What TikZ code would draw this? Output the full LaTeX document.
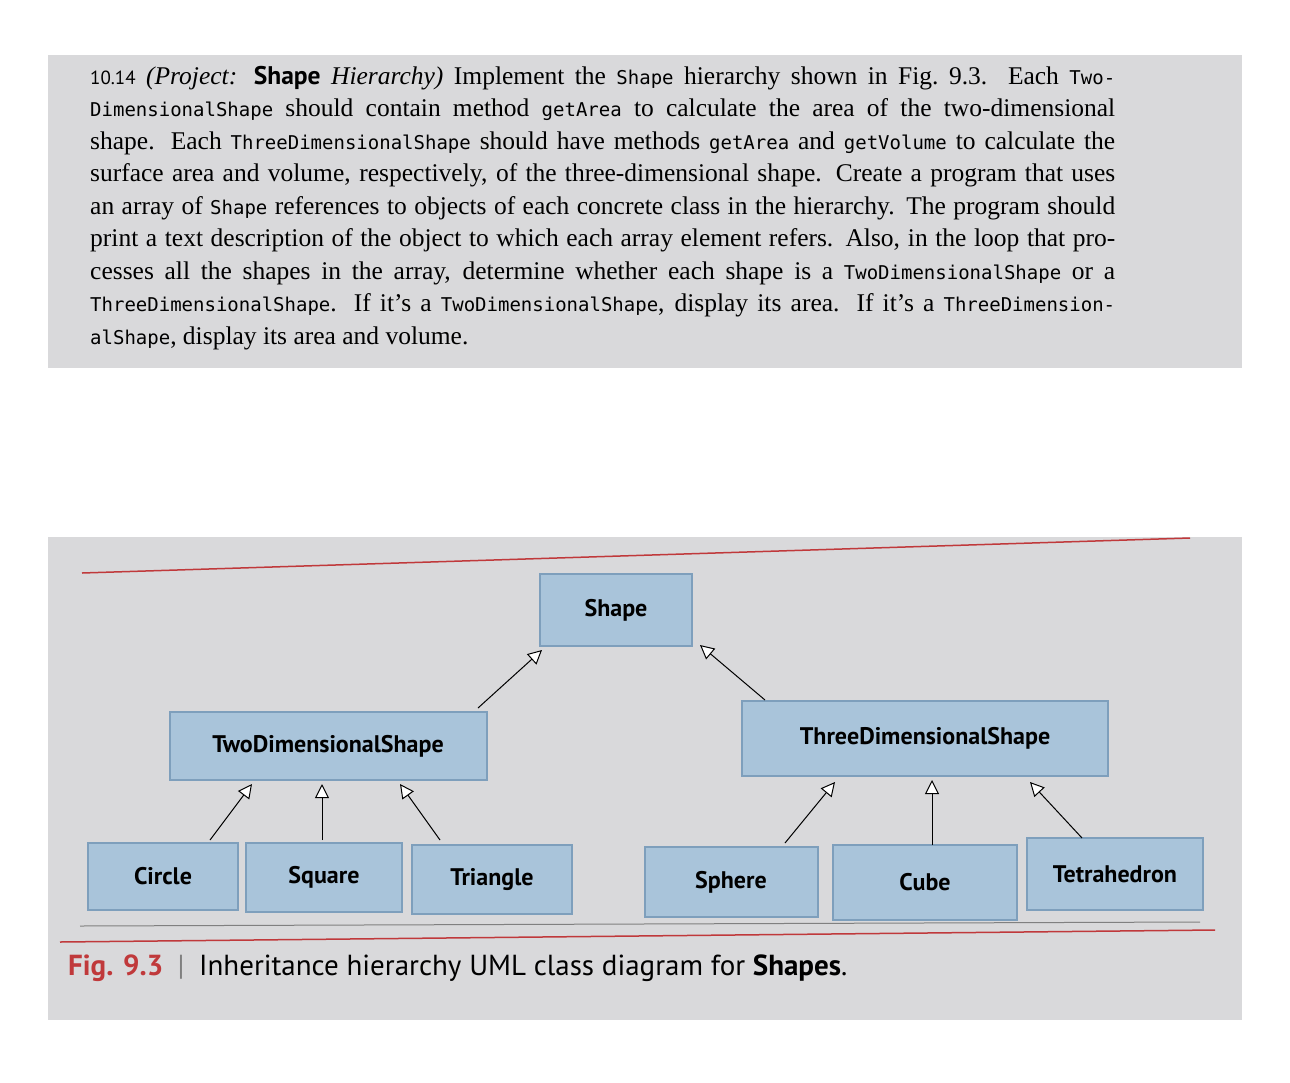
\documentclass[tikz,border=0pt]{standalone}
\usepackage{fontspec}
\setmainfont{Liberation Serif}
\setsansfont{PT Sans}
\setmonofont{DejaVu Sans Mono}
\usetikzlibrary{arrows.meta}
\definecolor{panel}{HTML}{D9D9DB}
\definecolor{boxfill}{HTML}{A9C4DA}
\definecolor{boxline}{HTML}{7E9FBC}
\definecolor{figred}{HTML}{C0393B}
\tikzset{
  cls/.style={draw=boxline, line width=2pt, fill=boxfill, font=\sffamily\bfseries\fontsize{24}{26}\selectfont, anchor=center, inner sep=0pt},
  inh/.style={draw=black, line width=1pt, -{Triangle[open, length=14pt, width=14pt, fill=white]}}
}
\newcommand{\mt}[1]{{\ttfamily\fontsize{19}{33}\selectfont #1}}
\begin{document}
\begin{tikzpicture}[x=1pt,y=-1pt]
\useasboundingbox (0,0) rectangle (1290,1082);
\fill[white] (0,0) rectangle (1290,1082);
\fill[panel] (48,55) rectangle (1242,368);
\fill[panel] (48,537) rectangle (1242,1020);
\node[anchor=north west, text width=1025pt, align=justify, inner sep=0pt, font=\fontsize{25.5}{32.5}\selectfont] (txt) at (90,66) {%
{\sffamily\fontsize{19}{32}\selectfont 10.14} \textit{(Project: {\sffamily\bfseries\upshape Shape} Hierarchy)} Implement the \mt{Shape} hierarchy shown in Fig.~9.3. Each \mt{Two-}\linebreak
\mt{DimensionalShape} should contain method \mt{getArea} to calculate the area of the two-dimensional\linebreak
shape. Each \mt{ThreeDimensionalShape} should have methods \mt{getArea} and \mt{getVolume} to calculate the\linebreak
surface area and volume, respectively, of the three-dimensional shape. Create a program that uses\linebreak
an array of \mt{Shape} references to objects of each concrete class in the hierarchy. The program should\linebreak
print a text description of the object to which each array element refers. Also, in the loop that pro-\linebreak
cesses all the shapes in the array, determine whether each shape is a \mt{TwoDimensionalShape} or a\linebreak
\mt{ThreeDimensionalShape}. If it's a \mt{TwoDimensionalShape}, display its area. If it's a \mt{ThreeDimension-}\linebreak
\mt{alShape}, display its area and volume.};
% red rules
\draw[figred, line width=1.5pt] (82,573) -- (1190,538);
\draw[figred, line width=1.5pt] (60,942) -- (1215,930);
\draw[gray, line width=1pt] (80,926) -- (1200,922);
% classes
\node[cls, minimum width=152pt, minimum height=72pt] (shape) at (616,610) {Shape};
\node[cls, minimum width=317pt, minimum height=68pt] (two) at (328,746) {TwoDimensionalShape};
\node[cls, minimum width=366pt, minimum height=75pt] (three) at (925,738) {ThreeDimensionalShape};
\node[cls, minimum width=150pt, minimum height=67pt] (circle) at (163,876) {Circle};
\node[cls, minimum width=156pt, minimum height=69pt] (square) at (324,877) {Square};
\node[cls, minimum width=160pt, minimum height=69pt] (triangle) at (492,879) {Triangle};
\node[cls, minimum width=173pt, minimum height=70pt] (sphere) at (731,882) {Sphere};
\node[cls, minimum width=184pt, minimum height=75pt] (cube) at (925,882) {Cube};
\node[cls, minimum width=176pt, minimum height=72pt] (tetra) at (1115,874) {Tetrahedron};
% arrow ends
\coordinate (a1s) at (478,708); \coordinate (a1e) at (542,650);
\coordinate (a2s) at (765,700); \coordinate (a2e) at (700,645);
\coordinate (b1s) at (210,840); \coordinate (b1e) at (252,784);
\coordinate (b2s) at (322,840); \coordinate (b2e) at (322,784);
\coordinate (b3s) at (440,840); \coordinate (b3e) at (400,784);
\coordinate (c1s) at (785,843); \coordinate (c1e) at (835,782);
\coordinate (c2s) at (932,845); \coordinate (c2e) at (932,780);
\coordinate (c3s) at (1082,838); \coordinate (c3e) at (1030,782);
\draw[inh] (a1s) -- (a1e);
\draw[inh] (a2s) -- (a2e);
\draw[inh] (b1s) -- (b1e);
\draw[inh] (b2s) -- (b2e);
\draw[inh] (b3s) -- (b3e);
\draw[inh] (c1s) -- (c1e);
\draw[inh] (c2s) -- (c2e);
\draw[inh] (c3s) -- (c3e);
% caption
\node[anchor=west, inner sep=0pt, font=\sffamily\fontsize{29}{32}\selectfont] (cap) at (68,968) {\textcolor{figred}{\bfseries Fig. 9.3}\enspace\textcolor{gray}{|}\enspace Inheritance hierarchy UML class diagram for {\bfseries Shapes}.};
\end{tikzpicture}
\end{document}
